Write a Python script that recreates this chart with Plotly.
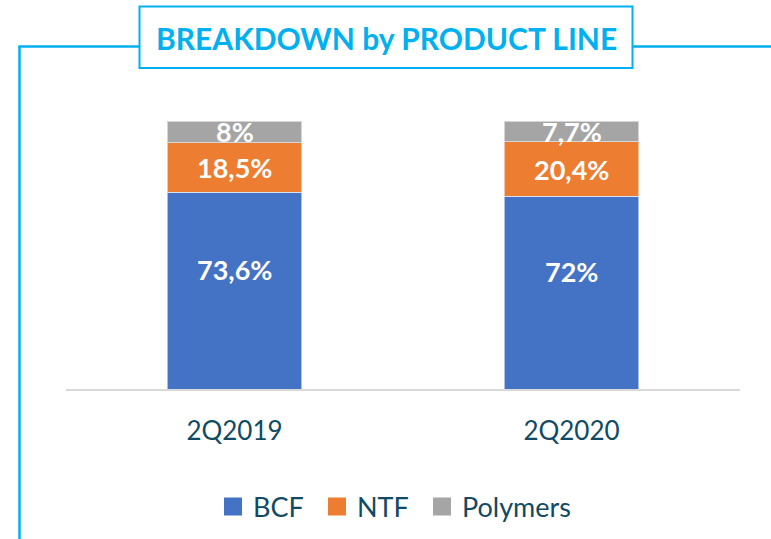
import plotly.graph_objects as go

# Product-line share of revenue per quarter (%)
periods = ["2Q2019", "2Q2020"]
series_names = ["BCF", "NTF", "Polymers"]
bcf = [73.6, 72.0]
ntf = [18.5, 20.4]
polymers = [8.0, 7.7]
value_labels = {
    "BCF": ["73,6%", "72%"],
    "NTF": ["18,5%", "20,4%"],
    "Polymers": ["8%", "7,7%"],
}

colors = {"BCF": "#4472C4", "NTF": "#ED7D31", "Polymers": "#A5A5A5"}
label_shift = {"BCF": 21, "NTF": 0, "Polymers": 0}
legend_ids = {"BCF": "legend", "NTF": "legend2", "Polymers": "legend3"}
legend_left_px = {"BCF": 213, "NTF": 317, "Polymers": 422}
cyan = "#00B0F0"
text_dark = "#114A64"

W, H = 771, 539
L, R, T, B = 66, 31, 100, 150
plot_w = W - L - R
plot_h = H - T - B


def px(x):
    return (x - L) / plot_w


def py(y):
    return (H - B - y) / plot_h


fig = go.Figure()
series_values = {"BCF": bcf, "NTF": ntf, "Polymers": polymers}

for name in series_names:
    fig.add_trace(go.Bar(
        x=periods, y=series_values[name], name=name,
        marker=dict(color=colors[name], line=dict(color="rgba(255,255,255,0.55)", width=1)),
        width=0.4, showlegend=False, hoverinfo="skip",
    ))
    # legend entry with a larger square swatch
    fig.add_trace(go.Scatter(
        x=[None], y=[None], mode="markers", name=name,
        marker=dict(symbol="square", size=16, color=colors[name],
                    line=dict(color=colors[name], width=2)),
        showlegend=True, legend=legend_ids[name],
    ))

# centred value labels on each segment
annotations = []
base = [0.0 for _ in periods]
for name in series_names:
    vals = series_values[name]
    for i, p in enumerate(periods):
        annotations.append(dict(
            x=p, y=base[i] + vals[i] / 2, xref="x", yref="y",
            text=value_labels[name][i], showarrow=False,
            yshift=label_shift[name],
            font=dict(family="Lato", size=27, color="white", weight="bold"),
        ))
        base[i] += vals[i]

# title inside its framed box
annotations.append(dict(
    x=px(386), y=py(38), xref="paper", yref="paper",
    text="<b>BREAKDOWN by PRODUCT LINE</b>", showarrow=False,
    xanchor="center", yanchor="middle",
    font=dict(family="Lato", size=30, color=cyan),
))

shapes = [
    # frame around the panel
    dict(type="line", xref="paper", yref="paper", x0=px(19.5), y0=py(H + 5), x1=px(19.5), y1=py(46.5),
         line=dict(color=cyan, width=2.5)),
    dict(type="line", xref="paper", yref="paper", x0=px(18.3), y0=py(46.5), x1=px(139), y1=py(46.5),
         line=dict(color=cyan, width=2.5)),
    dict(type="line", xref="paper", yref="paper", x0=px(633), y0=py(46.5), x1=px(W + 5), y1=py(46.5),
         line=dict(color=cyan, width=2.5)),
    dict(type="rect", xref="paper", yref="paper", x0=px(139.5), y0=py(68), x1=px(632.5), y1=py(6.5),
         line=dict(color=cyan, width=2), fillcolor="white"),
]

legend_style = dict(
    orientation="h", xanchor="left", y=py(507), yanchor="middle",
    font=dict(family="Lato", size=27, color=text_dark),
    itemwidth=30, bgcolor="rgba(0,0,0,0)",
)

fig.update_layout(
    width=W, height=H,
    margin=dict(l=L, r=R, t=T, b=B, pad=0, autoexpand=False),
    paper_bgcolor="white", plot_bgcolor="white",
    barmode="stack", bargap=0.6,
    font=dict(family="Lato", color=text_dark),
    xaxis=dict(
        showline=True, linecolor="#D9D9D9", linewidth=1.5,
        showgrid=False, ticks="", tickfont=dict(family="Lato", size=26, color=text_dark),
        ticklabelstandoff=18, fixedrange=True,
    ),
    yaxis=dict(range=[0, 108], visible=False, showgrid=False, fixedrange=True),
    legend=dict(legend_style, x=px(legend_left_px["BCF"])),
    legend2=dict(legend_style, x=px(legend_left_px["NTF"])),
    legend3=dict(legend_style, x=px(legend_left_px["Polymers"])),
    annotations=annotations,
    shapes=shapes,
)

fig.write_html("out.html")
